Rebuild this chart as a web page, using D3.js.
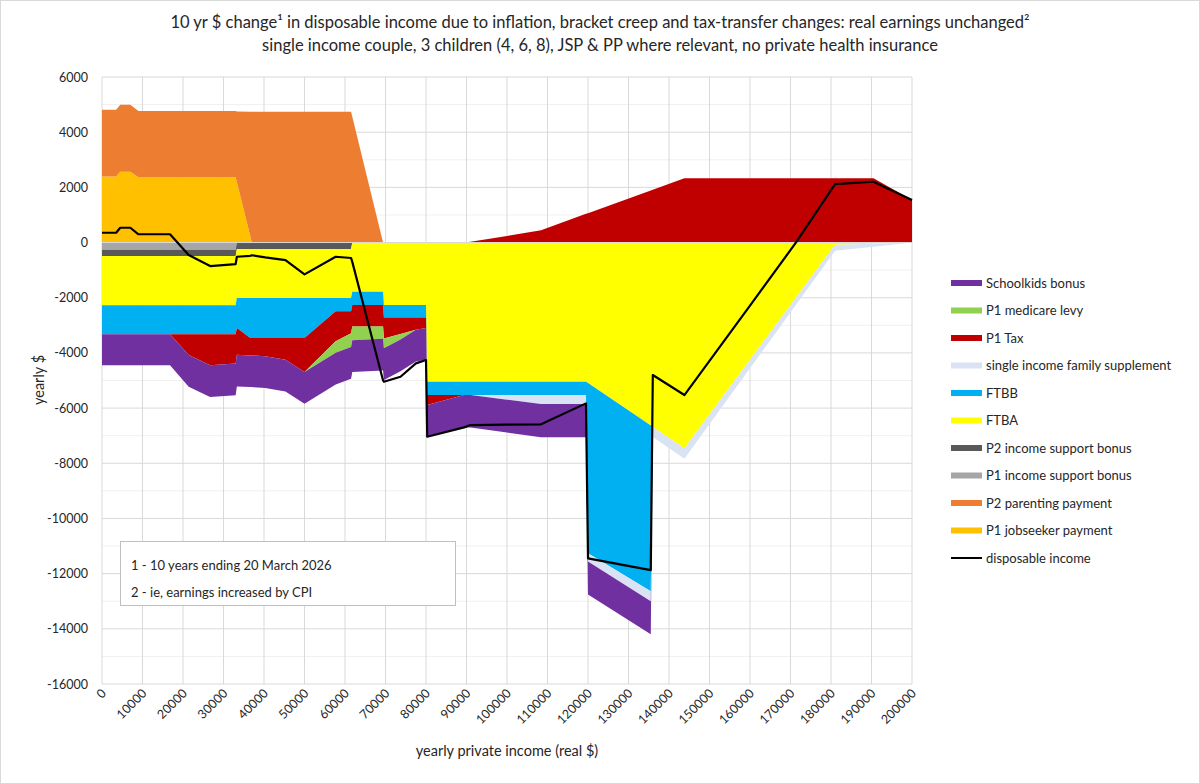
<!DOCTYPE html>
<html>
<head>
<meta charset="utf-8">
<script src="https://cdn.jsdelivr.net/npm/d3@7"></script>
<style>
body{margin:0;background:#fff;}
text{font-family:Lato,"Liberation Sans",sans-serif;fill:#262626;}
</style>
</head>
<body>
<script>
// yearly private income (real $) - shared x for every series
var incomes   = [0,3500,4500,7000,9000,16800,21400,26700,33000,33300,36600,37000,40300,45300,50000,57700,61500,61800,69400,69600,73700,77500,80000,80300,89400,91000,100000,108400,119500,120000,135500,136000,143800,160000,171500,181000,190500,200000];

var jobseeker = [2390,2390,2570,2570,2370,2370,2370,2370,2370,2190,240,0,0,0,0,0,0,0,0,0,0,0,0,0,0,0,0,0,0,0,0,0,0,0,0,0,0,0];
var parenting = [2420,2420,2420,2420,2400,2400,2400,2400,2400,2560,4500,4740,4740,4740,4740,4740,4740,4560,0,0,0,0,0,0,0,0,0,0,0,0,0,0,0,0,0,0,0,0];
var isbP1     = [-260,-260,-260,-260,-260,-260,-260,-260,-260,0,0,0,0,0,0,0,0,0,0,0,0,0,0,0,0,0,0,0,0,0,0,0,0,0,0,0,0,0];
var isbP2     = [-230,-230,-230,-230,-230,-230,-230,-230,-230,-230,-230,-230,-230,-230,-230,-230,-230,0,0,0,0,0,0,0,0,0,0,0,0,0,0,0,0,0,0,0,0,0];
var ftba      = [-1780,-1780,-1780,-1780,-1780,-1780,-1780,-1780,-1780,-1780,-1780,-1780,-1780,-1780,-1780,-1780,-1780,-1780,-1780,-2265,-2265,-2265,-2265,-5045,-5045,-5045,-5045,-5045,-5045,-5095,-6635,-6685,-7460,-4246,-1964,-80,-40,0];
var ftbb      = [-1050,-1050,-1050,-1050,-1050,-1050,-1050,-1050,-1050,-1090,-1450,-1450,-1450,-1450,-1450,-480,-480,-480,-480,-450,-450,-450,-450,-480,-480,-480,-480,-480,-480,-6165,-6005,0,0,0,0,0,0,0];
var sifs      = [0,0,0,0,0,0,0,0,0,0,0,0,0,0,0,0,0,0,0,0,0,0,0,0,0,0,-170,-330,-330,-300,-360,-360,-380,-310,-260,-220,-110,0];
var tax       = [0,0,0,0,0,0,-760,-1124,-1063,-965,-630,-630,-664,-785,-1230,-1087,-800,-785,-780,-760,-600,-450,-380,-360,0,30,240,450,1040,1066,1890,1917,2330,2330,2330,2330,2330,1540];
var medicare  = [0,0,0,0,0,0,0,0,0,0,0,0,0,0,0,-420,-500,-500,-450,-360,-200,0,0,0,0,0,0,0,0,0,0,0,0,0,0,0,0,0];
var schoolkids= [-1130,-1130,-1130,-1130,-1130,-1130,-1150,-1150,-1150,-1150,-1150,-1150,-1150,-1150,-1150,-1150,-1150,-1150,-1150,-1150,-1150,-1150,-1150,-1150,-1180,-1180,-1190,-1200,-1200,-1200,-1200,0,0,0,0,0,0,0];
var disposable= [355,355,536,536,300,300,-453,-852,-779,-514,-480,-460,-537,-634,-1153,-514,-560,-700,-5000,-5045,-4863,-4379,-4258,-7037,-6700,-6614,-6600,-6590,-5829,-11445,-11870,-4802,-5527,-2286,30,2120,2203,1540];

var yTicks = [6000,4000,2000,0,-2000,-4000,-6000,-8000,-10000,-12000,-14000,-16000];
var xTicks = d3.range(0,200001,10000);

// stacking order (bottom first) and legend names / colours
var seriesKeys   = ["jsp","pp","isb1","isb2","ftba","ftbb","sifs","tax","medicare","sk"];
var seriesNames  = ["P1 jobseeker payment","P2 parenting payment","P1 income support bonus","P2 income support bonus","FTBA","FTBB","single income family supplement","P1 Tax","P1 medicare levy","Schoolkids bonus"];
var seriesColors = ["#ffc000","#ed7d31","#a6a6a6","#595959","#ffff00","#00b0f0","#dae3f3","#c00000","#92d050","#7030a0"];
var seriesData   = [jobseeker,parenting,isbP1,isbP2,ftba,ftbb,sifs,tax,medicare,schoolkids];

var rows = incomes.map(function(inc,i){
  var r = {income:inc, disp:disposable[i]};
  seriesKeys.forEach(function(k,j){ r[k] = seriesData[j][i]; });
  return r;
});

var width = 1200, height = 784;
var svg = d3.select("body").append("svg").attr("width",width).attr("height",height);

svg.append("rect").attr("x",0.5).attr("y",0.5).attr("width",width-1).attr("height",height-1)
  .attr("fill","#fff").attr("stroke","#d9d9d9");

var x = d3.scaleLinear().domain([0,200000]).range([102,912]);
var y = d3.scaleLinear().domain([-16000,6000]).range([684,77]);

// gridlines
var grid = svg.append("g");
grid.selectAll("line.minor").data(d3.range(-15000,6000,2000)).enter().append("line")
  .attr("x1",x(0)).attr("x2",x(200000)).attr("y1",function(d){return y(d);}).attr("y2",function(d){return y(d);})
  .attr("stroke","#f0f0f0");
grid.selectAll("line.major").data(yTicks).enter().append("line")
  .attr("x1",x(0)).attr("x2",x(200000)).attr("y1",function(d){return y(d);}).attr("y2",function(d){return y(d);})
  .attr("stroke","#d9d9d9");
grid.selectAll("line.vert").data(xTicks).enter().append("line")
  .attr("y1",y(6000)).attr("y2",y(-16000)).attr("x1",function(d){return x(d);}).attr("x2",function(d){return x(d);})
  .attr("stroke","#d9d9d9");

// positive and negative parts stacked separately so zero values sit on the running edge
var posStack = d3.stack().keys(seriesKeys).value(function(d,k){ return Math.max(0,d[k]); })(rows);
var negStack = d3.stack().keys(seriesKeys).value(function(d,k){ return Math.min(0,d[k]); })(rows);

var area = d3.area()
  .x(function(d){ return x(d.data.income); })
  .y0(function(d){ return y(d[0]); })
  .y1(function(d){ return y(d[1]); });

var chartGroup = svg.append("g");
chartGroup.selectAll("path.pos").data(posStack).enter().append("path")
  .attr("d",area).attr("fill",function(d,i){ return seriesColors[i]; });
chartGroup.selectAll("path.neg").data(negStack).enter().append("path")
  .attr("d",area).attr("fill",function(d,i){ return seriesColors[i]; });

// zero axis line
svg.append("line").attr("x1",x(0)).attr("x2",x(200000)).attr("y1",y(0)).attr("y2",y(0))
  .attr("stroke","#d9d9d9");

var line = d3.line().x(function(d){ return x(d.income); }).y(function(d){ return y(d.disp); });
svg.append("path").datum(rows).attr("d",line).attr("fill","none").attr("stroke","#000").attr("stroke-width",2.2)
  .attr("stroke-linejoin","round");

// y tick labels
svg.selectAll("text.ytick").data(yTicks).enter().append("text")
  .attr("x",88).attr("y",function(d){ return y(d)+4.5; }).attr("text-anchor","end")
  .style("font-size","12.5px").text(function(d){ return d; });

// x tick labels, rotated
svg.selectAll("text.xtick").data(xTicks).enter().append("text")
  .attr("text-anchor","end")
  .attr("transform",function(d){ return "translate("+(x(d)+5)+",694) rotate(-45)"; })
  .style("font-size","12.5px").text(function(d){ return d; });

// axis titles
svg.append("text").attr("x",507).attr("y",756).attr("text-anchor","middle").style("font-size","14.5px")
  .text("yearly private income (real $)");
svg.append("text").attr("transform","translate(44,380) rotate(-90)").attr("text-anchor","middle").style("font-size","14.5px")
  .text("yearly $");

// title
svg.append("text").attr("x",600).attr("y",28).attr("text-anchor","middle").style("font-size","16.5px")
  .text("10 yr $ change\u00b9 in disposable income due to inflation, bracket creep and tax-transfer changes: real earnings unchanged\u00b2");
svg.append("text").attr("x",600).attr("y",51).attr("text-anchor","middle").style("font-size","16.5px")
  .text("single income couple, 3 children (4, 6, 8), JSP & PP where relevant, no private health insurance");

// legend, top row = last series
var legendItems = seriesNames.map(function(n,i){ return {name:n,color:seriesColors[i],type:"area"}; }).reverse();
legendItems.push({name:"disposable income",color:"#000",type:"line"});
var legend = svg.selectAll("g.legend").data(legendItems).enter().append("g")
  .attr("transform",function(d,i){ return "translate(951,"+(283+i*27.5)+")"; });
legend.append("rect").filter(function(d){ return d.type==="area"; })
  .attr("x",0).attr("y",-3).attr("width",31).attr("height",6).attr("fill",function(d){ return d.color; });
legend.filter(function(d){ return d.type==="line"; }).append("line")
  .attr("x1",0).attr("x2",31).attr("y1",0).attr("y2",0).attr("stroke","#000").attr("stroke-width",2);
legend.append("text").attr("x",35).attr("y",4.5).style("font-size","13px").text(function(d){ return d.name; });

// notes box
svg.append("rect").attr("x",120.5).attr("y",541.5).attr("width",335).attr("height",64)
  .attr("fill","#fff").attr("stroke","#bfbfbf");
svg.append("text").attr("x",131).attr("y",570).style("font-size","13px").text("1 - 10 years ending 20 March 2026");
svg.append("text").attr("x",131).attr("y",597).style("font-size","13px").text("2 - ie, earnings increased by CPI");
</script>
</body>
</html>
